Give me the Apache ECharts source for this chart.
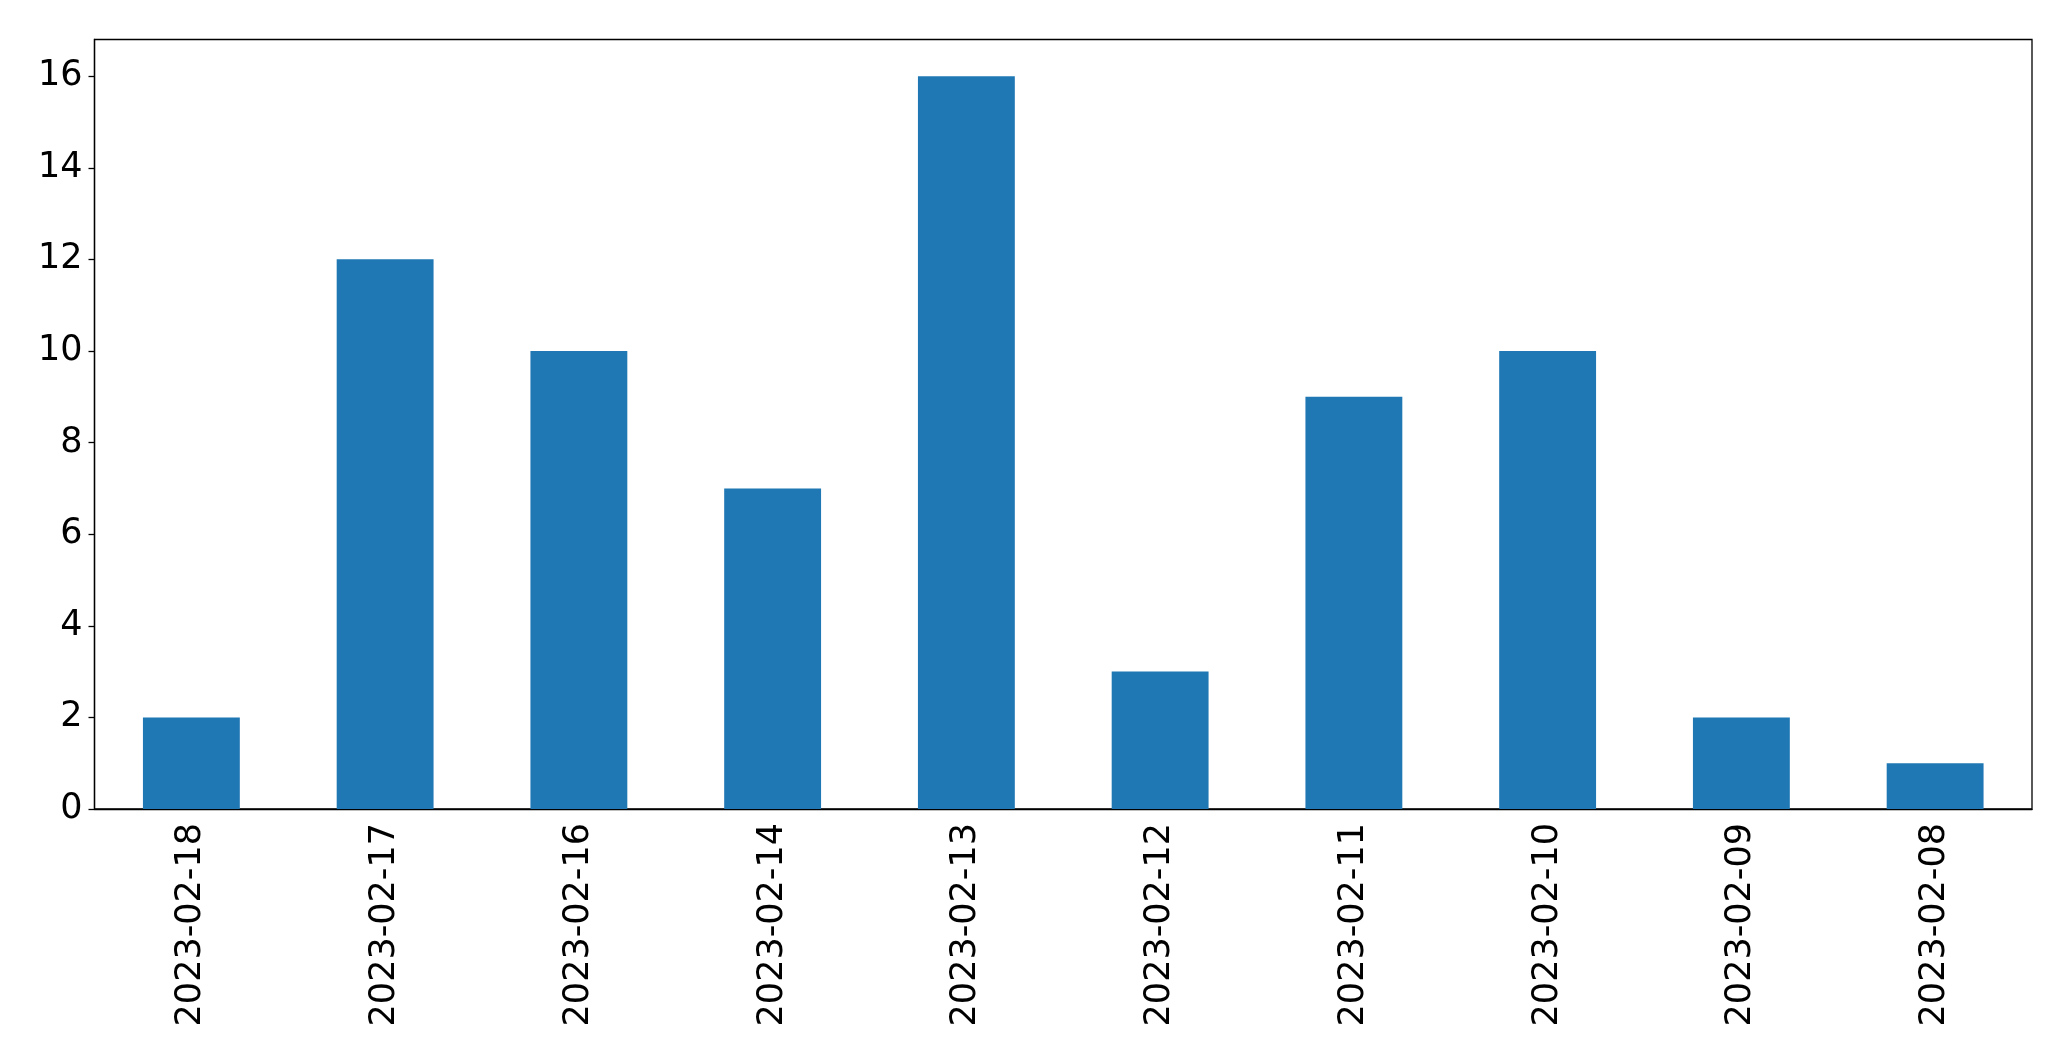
<!DOCTYPE html>
<html>
<head>
<meta charset="utf-8">
<script src="https://cdn.jsdelivr.net/npm/echarts@6/dist/echarts.min.js"></script>
<style>
html,body{margin:0;padding:0;background:#fff;}
#main{width:2071px;height:1061px;}
</style>
</head>
<body>
<div id="main"></div>
<script>
const categories = ["2023-02-18","2023-02-17","2023-02-16","2023-02-14","2023-02-13","2023-02-12","2023-02-11","2023-02-10","2023-02-09","2023-02-08"];
const values = [2, 12, 10, 7, 16, 3, 9, 10, 2, 1];
const yTicks = [0, 2, 4, 6, 8, 10, 12, 14, 16];

const chart = echarts.init(document.getElementById('main'), null, {renderer: 'canvas'});
const font = 'DejaVu Sans';
chart.setOption({
  animation: false,
  grid: {
    left: 94.5, right: 39, top: 39.5, bottom: 252,
    show: true, borderColor: '#000', borderWidth: 1.3, backgroundColor: 'transparent'
  },
  xAxis: {
    type: 'category',
    data: categories,
    axisLine: {lineStyle: {color: '#000', width: 1.3}},
    axisTick: {alignWithLabel: true, length: 6, lineStyle: {color: '#000', width: 1.3}},
    axisLabel: {rotate: 90, margin: 14, color: '#000', fontFamily: font, fontSize: 35, interval: 0}
  },
  yAxis: {
    type: 'value',
    min: 0, max: 16.8, interval: 2,
    splitLine: {show: false},
    axisLine: {show: true, lineStyle: {color: '#000', width: 1.3}},
    axisTick: {show: true, length: 6, customValues: yTicks, lineStyle: {color: '#000', width: 1.3}},
    axisLabel: {
      margin: 12, color: '#000', fontFamily: font, fontSize: 35,
      customValues: yTicks,
      formatter: v => yTicks.includes(v) ? String(v) : ''
    }
  },
  series: [{
    type: 'bar',
    data: values,
    barWidth: '50%',
    itemStyle: {color: '#1f77b4'}
  }]
});
</script>
</body>
</html>
